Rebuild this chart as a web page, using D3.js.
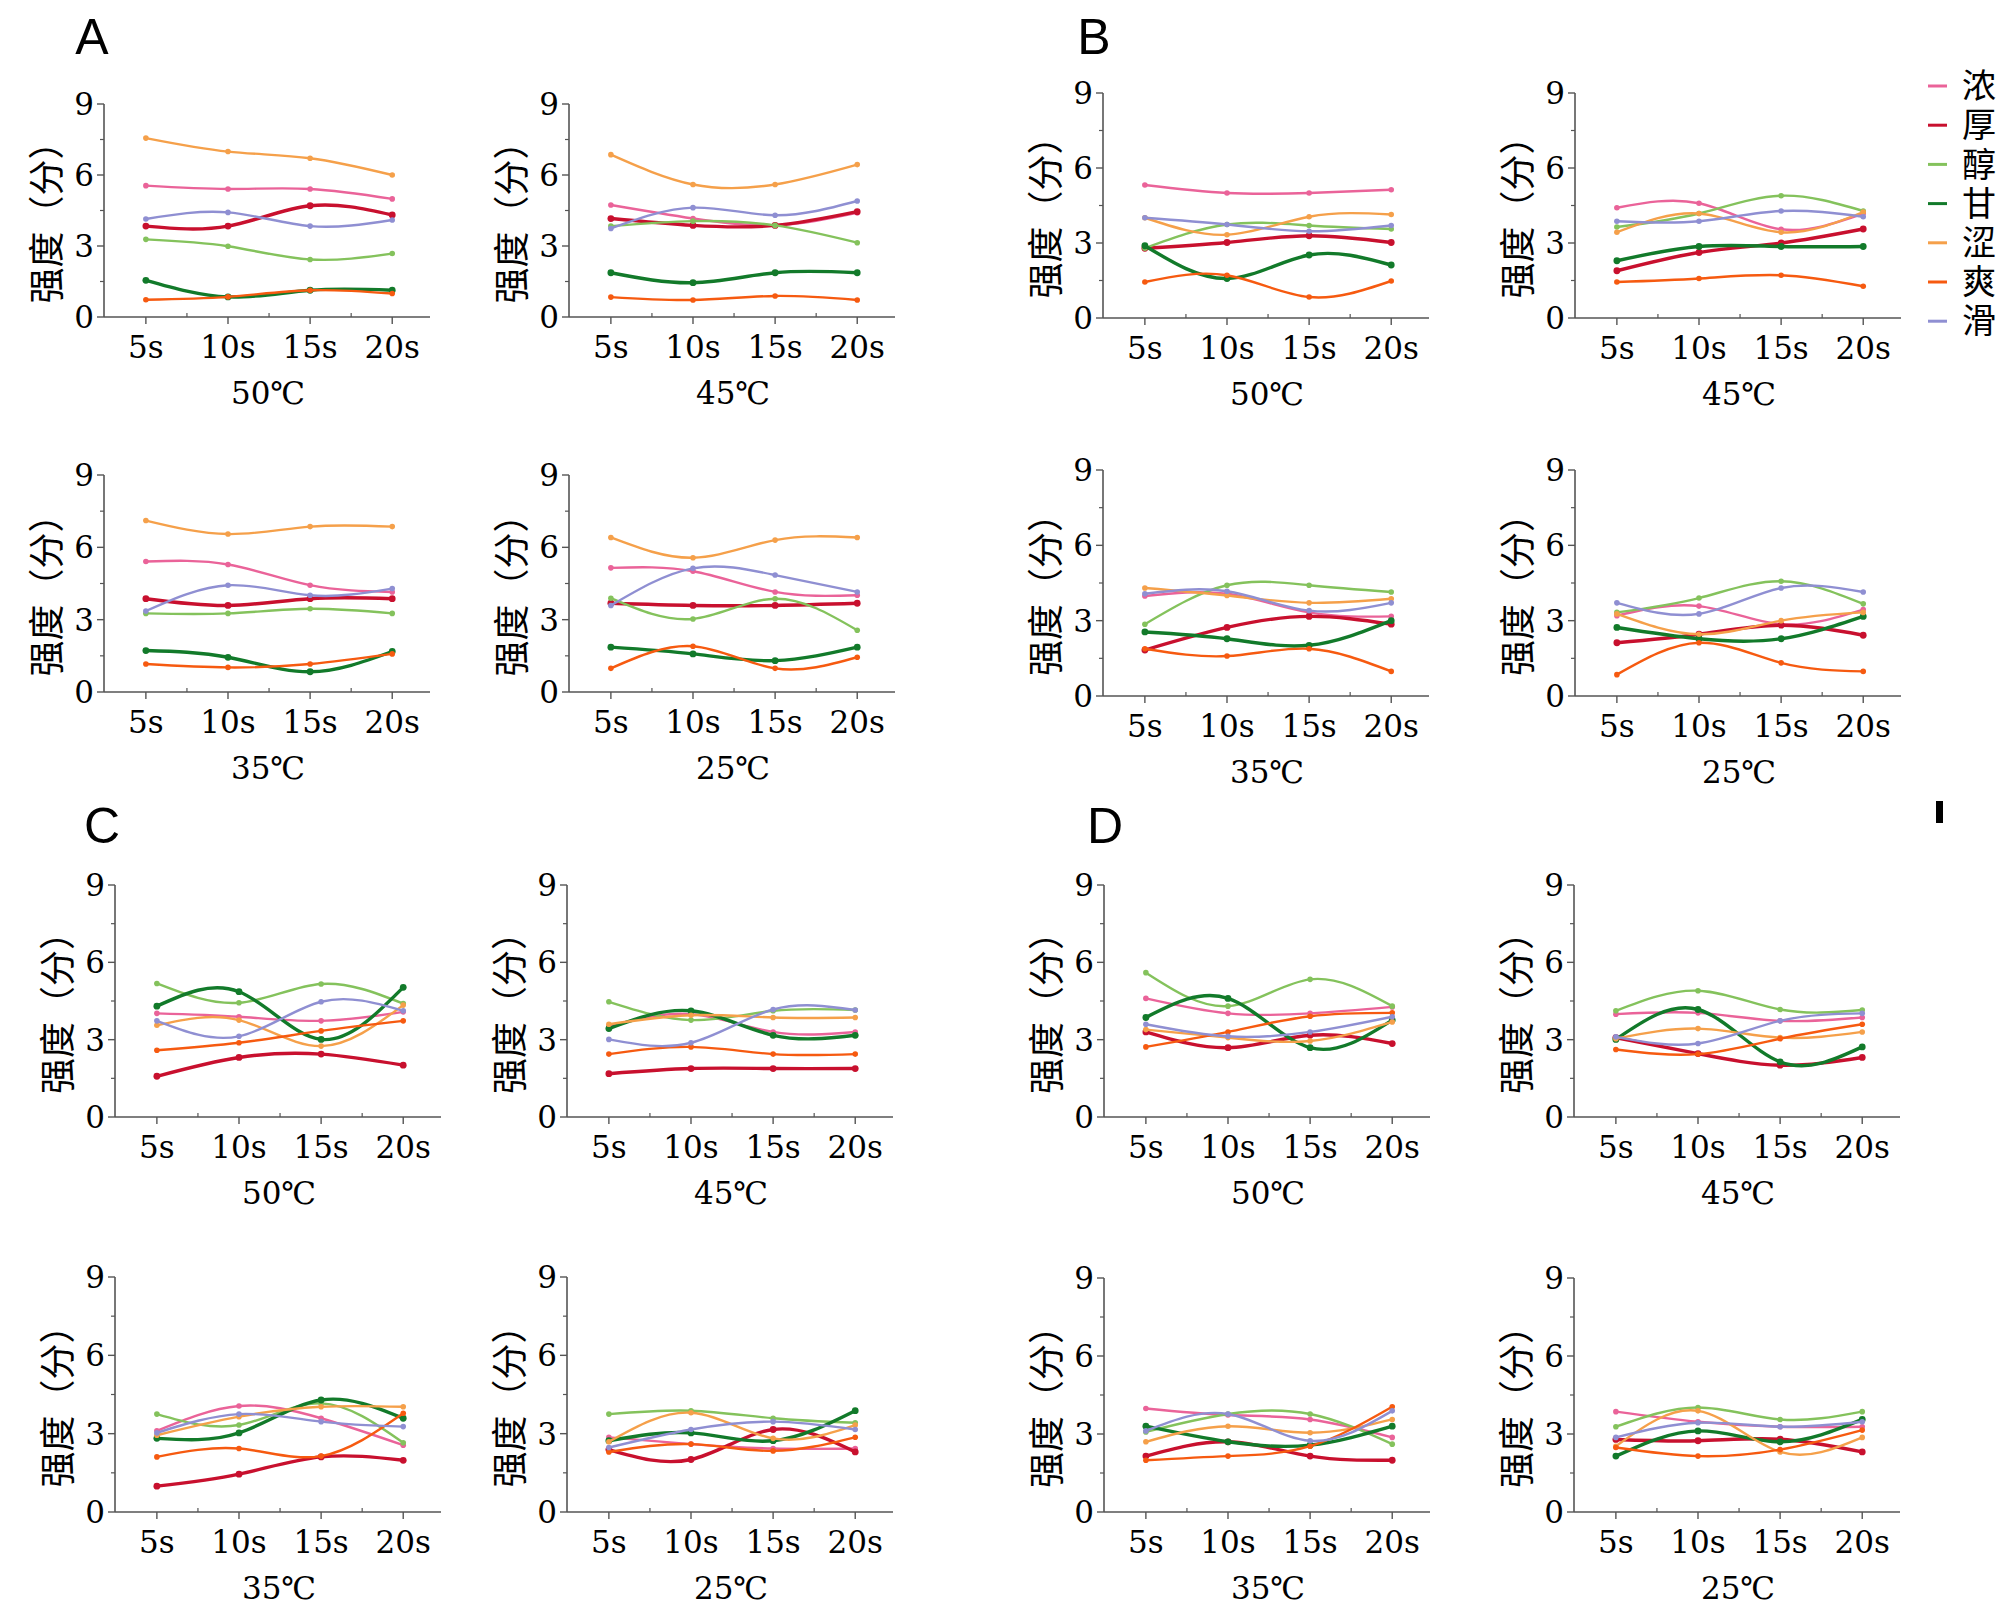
<!DOCTYPE html>
<html>
<head>
<meta charset="utf-8">
<script src="https://cdn.jsdelivr.net/npm/d3@7"></script>
<style>
  body { margin: 0; background: #fff; }
</style>
</head>
<body>
<div id="chart"></div>
<script>
// series, times and panel data
const seriesNames = ["浓", "厚", "醇", "甘", "涩", "爽", "滑"];
const seriesColors = ["#ea6399", "#c8102e", "#84c25c", "#127a2a", "#f5a04a", "#f65a10", "#8f8fd2"];
const times = [5, 10, 15, 20];
const timeLabels = ["5s", "10s", "15s", "20s"];
const yTicks = [0, 3, 6, 9];
const temps = ["50℃", "45℃", "35℃", "25℃"];

// each row: 浓, 厚, 醇, 甘, 涩, 爽, 滑
const A50 = [[5.55,5.41,5.41,4.99],[3.84,3.84,4.70,4.31],[3.28,2.99,2.43,2.68],[1.55,0.85,1.13,1.13],[7.56,6.99,6.71,6.00],[0.73,0.85,1.13,0.99],[4.14,4.42,3.84,4.10]];
const A45 = [[4.73,4.16,3.88,4.40],[4.16,3.87,3.87,4.45],[3.84,4.05,3.87,3.14],[1.87,1.45,1.87,1.87],[6.86,5.60,5.60,6.44],[0.84,0.72,0.89,0.72],[3.74,4.62,4.30,4.90]];
const A35 = [[5.41,5.29,4.43,4.15],[3.87,3.59,3.87,3.87],[3.26,3.26,3.45,3.26],[1.72,1.44,0.84,1.68],[7.11,6.55,6.86,6.86],[1.16,1.02,1.16,1.58],[3.36,4.43,4.01,4.29]];
const A25 = [[5.15,5.01,4.15,4.01],[3.68,3.59,3.59,3.68],[3.89,3.03,3.87,2.56],[1.86,1.58,1.30,1.86],[6.41,5.57,6.30,6.41],[0.98,1.90,0.98,1.44],[3.59,5.13,4.85,4.15]];
const B50 = [[5.32,5.00,5.00,5.13],[2.79,3.02,3.29,3.02],[2.79,3.74,3.70,3.56],[2.89,1.58,2.52,2.12],[4.01,3.33,4.05,4.14],[1.44,1.71,0.84,1.48],[4.01,3.74,3.47,3.70]];
const B45 = [[4.41,4.59,3.55,4.18],[1.89,2.62,3.00,3.56],[3.64,4.18,4.89,4.28],[2.29,2.86,2.86,2.86],[3.43,4.18,3.43,4.24],[1.44,1.58,1.71,1.27],[3.87,3.87,4.28,4.05]];
const B35 = [[3.98,4.07,3.33,3.17],[1.83,2.73,3.17,2.86],[2.86,4.41,4.41,4.14],[2.55,2.28,2.02,3.00],[4.30,4.00,3.71,3.87],[1.88,1.59,1.88,0.98],[4.07,4.17,3.40,3.71]];
const B25 = [[3.20,3.58,2.86,3.44],[2.12,2.46,2.82,2.42],[3.33,3.90,4.57,3.67],[2.73,2.28,2.28,3.17],[3.27,2.46,3.00,3.33],[0.85,2.12,1.32,0.98],[3.71,3.27,4.30,4.14]];
const C50 = [[4.02,3.89,3.73,4.08],[1.58,2.31,2.44,2.01],[5.18,4.43,5.16,4.40],[4.30,4.86,3.01,5.03],[3.56,3.76,2.75,4.34],[2.59,2.88,3.34,3.73],[3.73,3.13,4.47,4.12]];
const C45 = [[3.52,3.99,3.30,3.30],[1.68,1.88,1.88,1.88],[4.47,3.76,4.12,4.15],[3.43,4.12,3.17,3.17],[3.60,3.95,3.86,3.86],[2.44,2.72,2.44,2.44],[3.01,2.88,4.17,4.15]];
const C35 = [[3.11,4.06,3.59,2.56],[0.99,1.45,2.11,1.98],[3.75,3.33,4.16,2.65],[2.82,3.03,4.29,3.59],[2.94,3.65,4.03,4.03],[2.11,2.43,2.14,3.78],[3.03,3.75,3.46,3.27]];
const C25 = [[2.86,2.60,2.43,2.43],[2.39,2.01,3.16,2.30],[3.75,3.88,3.59,3.42],[2.73,3.03,2.73,3.88],[2.69,3.80,2.82,3.33],[2.30,2.60,2.34,2.86],[2.47,3.16,3.46,3.16]];
const D50 = [[4.60,4.02,4.02,4.27],[3.30,2.69,3.17,2.85],[5.60,4.30,5.34,4.30],[3.86,4.60,2.69,3.76],[3.39,3.08,2.95,3.69],[2.72,3.30,3.91,4.04],[3.60,3.13,3.30,3.89]];
const D45 = [[3.99,4.04,3.73,3.86],[3.08,2.46,2.01,2.31],[4.12,4.90,4.17,4.15],[3.01,4.17,2.14,2.72],[3.04,3.43,3.08,3.30],[2.62,2.44,3.04,3.60],[3.11,2.85,3.73,4.02]];
const D35 = [[3.98,3.73,3.56,2.87],[2.15,2.70,2.15,1.99],[3.08,3.77,3.77,2.61],[3.30,2.70,2.57,3.30],[2.70,3.30,3.05,3.56],[1.99,2.15,2.53,4.05],[3.12,3.77,2.74,3.89]];
const D25 = [[3.86,3.47,3.28,3.28],[2.79,2.74,2.80,2.31],[3.28,4.02,3.56,3.86],[2.15,3.12,2.70,3.56],[2.53,3.89,2.31,2.87],[2.48,2.15,2.40,3.15],[2.87,3.43,3.28,3.47]];

// layout of the four groups: column axis x, rows [top(9), bottom(0)]
const groups = [
    { letter: "A", lx: 92, ly: 36, cols: [104, 569], rows: [[104, 317], [475, 692]], data: [A50, A45, A35, A25] },
    { letter: "B", lx: 1094, ly: 36, cols: [1103, 1575], rows: [[93, 318], [470, 696]], data: [B50, B45, B35, B25] },
    { letter: "C", lx: 102, ly: 825, cols: [115, 567], rows: [[885, 1117], [1277, 1512]], data: [C50, C45, C35, C25] },
    { letter: "D", lx: 1105, ly: 825, cols: [1104, 1574], rows: [[885, 1117], [1278, 1512]], data: [D50, D45, D35, D25] }
];

const width = 2000;
const height = 1617;
const axisLen = 326;
const AXIS_COLOR = "#555";
const NUM_FONT = "'DejaVu Serif', 'Liberation Serif', serif";
const CJK_FONT = "'Noto Sans CJK SC', 'Noto Sans', sans-serif";

const svg = d3.select("#chart")
    .append("svg")
    .attr("width", width)
    .attr("height", height)
    .style("background", "#fff");

const line = d3.line().curve(d3.curveNatural);

function drawPanel(x0, yTop, yBottom, values, title) {
    const g = svg.append("g").attr("transform", `translate(${x0},0)`);

    const x = d3.scaleLinear().domain([2.45, 22.3]).range([0, axisLen]);
    const y = d3.scaleLinear().domain([0, 9]).range([yBottom, yTop]);

    // y axis
    g.append("line")
        .attr("x1", 0).attr("x2", 0)
        .attr("y1", y(9)).attr("y2", y(0))
        .attr("stroke", AXIS_COLOR).attr("stroke-width", 1.6);
    g.selectAll("line.ymajor")
        .data(yTicks)
        .enter().append("line")
        .attr("class", "ymajor")
        .attr("x1", -7).attr("x2", 0)
        .attr("y1", d => y(d)).attr("y2", d => y(d))
        .attr("stroke", AXIS_COLOR).attr("stroke-width", 1.4);
    g.selectAll("line.yminor")
        .data([1.5, 4.5, 7.5])
        .enter().append("line")
        .attr("class", "yminor")
        .attr("x1", -4).attr("x2", 0)
        .attr("y1", d => y(d)).attr("y2", d => y(d))
        .attr("stroke", AXIS_COLOR).attr("stroke-width", 1.2);
    g.selectAll("text.ytick")
        .data(yTicks)
        .enter().append("text")
        .attr("class", "ytick")
        .attr("x", -10)
        .attr("y", d => y(d))
        .attr("dy", "0.36em")
        .attr("text-anchor", "end")
        .style("font-family", NUM_FONT)
        .style("font-size", "31px")
        .text(d => d);

    // x axis
    g.append("line")
        .attr("x1", 0).attr("x2", axisLen)
        .attr("y1", y(0)).attr("y2", y(0))
        .attr("stroke", AXIS_COLOR).attr("stroke-width", 1.6);
    g.selectAll("line.xmajor")
        .data(times)
        .enter().append("line")
        .attr("class", "xmajor")
        .attr("x1", d => x(d)).attr("x2", d => x(d))
        .attr("y1", y(0)).attr("y2", y(0) + 7)
        .attr("stroke", AXIS_COLOR).attr("stroke-width", 1.4);
    g.selectAll("line.xminor")
        .data([7.5, 12.5, 17.5])
        .enter().append("line")
        .attr("class", "xminor")
        .attr("x1", d => x(d)).attr("x2", d => x(d))
        .attr("y1", y(0) - 4).attr("y2", y(0))
        .attr("stroke", AXIS_COLOR).attr("stroke-width", 1.2);
    g.selectAll("text.xtick")
        .data(times)
        .enter().append("text")
        .attr("class", "xtick")
        .attr("x", d => x(d))
        .attr("y", y(0) + 41)
        .attr("text-anchor", "middle")
        .style("font-family", NUM_FONT)
        .style("font-size", "31px")
        .text((d, i) => timeLabels[i]);

    // panel title
    g.append("text")
        .attr("x", 164)
        .attr("y", y(0) + 87)
        .attr("text-anchor", "middle")
        .style("font-family", NUM_FONT)
        .style("font-size", "31px")
        .text(title);

    // y label
    const cy = (yTop + yBottom) / 2 + 3;
    g.append("text")
        .attr("transform", `translate(-44,${cy}) rotate(-90)`)
        .attr("text-anchor", "middle")
        .style("font-family", CJK_FONT)
        .style("font-size", "36px")
        .text("强度（分）");

    // series lines
    values.forEach((vals, si) => {
        const pts = vals.map((v, i) => [x(times[i]), y(v)]);
        const thick = si === 1 || si === 3;
        g.append("path")
            .attr("d", line(pts))
            .attr("fill", "none")
            .attr("stroke", seriesColors[si])
            .attr("stroke-width", thick ? 3.4 : 2.4);
        g.selectAll(null)
            .data(pts)
            .enter().append("circle")
            .attr("cx", d => d[0])
            .attr("cy", d => d[1])
            .attr("r", thick ? 3.4 : 2.8)
            .attr("fill", seriesColors[si]);
    });
}

groups.forEach(grp => {
    svg.append("text")
        .attr("x", grp.lx)
        .attr("y", grp.ly)
        .attr("dy", "0.36em")
        .attr("text-anchor", "middle")
        .style("font-family", "'Liberation Sans', Arial, sans-serif")
        .style("font-size", "50px")
        .text(grp.letter);

    grp.data.forEach((vals, k) => {
        const col = k % 2;
        const row = Math.floor(k / 2);
        drawPanel(grp.cols[col], grp.rows[row][0], grp.rows[row][1], vals, temps[k]);
    });
});

// legend
const legend = svg.append("g").attr("class", "legend");
seriesNames.forEach((name, i) => {
    const ly = 86 + i * 39.2;
    legend.append("line")
        .attr("x1", 1928).attr("x2", 1947)
        .attr("y1", ly).attr("y2", ly)
        .attr("stroke", seriesColors[i])
        .attr("stroke-width", 3);
    legend.append("text")
        .attr("x", 1962)
        .attr("y", ly)
        .attr("dy", "0.36em")
        .style("font-family", CJK_FONT)
        .style("font-size", "34px")
        .text(name);
});

// small black mark seen at the right edge
svg.append("rect")
    .attr("x", 1936).attr("y", 801)
    .attr("width", 7).attr("height", 22)
    .attr("fill", "#000");
</script>
</body>
</html>
